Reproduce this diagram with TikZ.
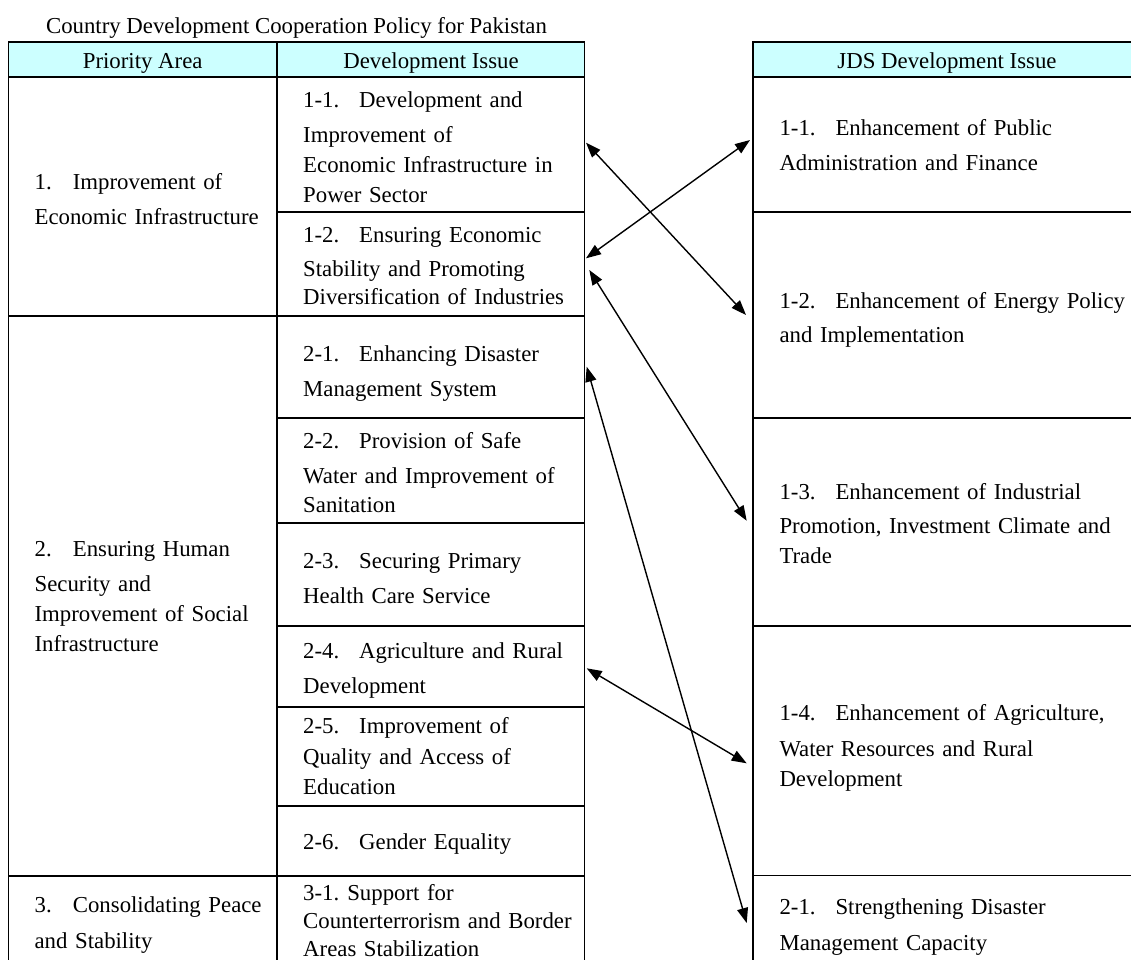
\documentclass[tikz,border=0pt]{standalone}
\usepackage{fontspec}
\setmainfont{Liberation Serif}
\usetikzlibrary{arrows.meta}
\definecolor{hdrcyan}{HTML}{CCFFFF}
\newcommand\prinum[1]{\makebox[38.3pt][l]{#1}}
\newcommand\devnum[1]{\makebox[56pt][l]{#1}}
\newcommand\jdsnum[1]{\makebox[56pt][l]{#1}}
\begin{document}
\begin{tikzpicture}[x=1pt,y=-1pt,
  cell/.style={draw=black, line width=1.9pt, rectangle, anchor=north west, inner sep=0pt, outer sep=0pt},
  hdr/.style={cell, fill=hdrcyan},
  txt/.style={anchor=base west, inner sep=0pt, align=left, text width=520pt, font=\fontsize{22.8}{30}\selectfont},
  htxt/.style={anchor=base, inner sep=0pt, font=\fontsize{22.8}{30}\selectfont},
  link/.style={line width=1.4pt, {Triangle[length=15pt,width=11pt]}-{Triangle[length=15pt,width=11pt]}}
]
\useasboundingbox (0,0) rectangle (1131,959);
\clip (0,0) rectangle (1131,959);
\fill[white] (0,0) rectangle (1131,959);

% title
\node[htxt] (title) at (296.5,33) {Country Development Cooperation Policy for Pakistan};

% headers
\node[hdr, minimum width=268.5pt, minimum height=35pt] (hP) at (8.5,41.7) {};
\node[hdr, minimum width=307.5pt, minimum height=35pt] (hD) at (277,41.7) {};
\node[hdr, minimum width=388.3pt, minimum height=35pt] (hJ) at (752.7,41.7) {};
\node[htxt] (hPt) at (142.7,68.3) {Priority Area};
\node[htxt] (hDt) at (431,68.3) {Development Issue};
\node[htxt] (hJt) at (947,68.3) {JDS Development Issue};

% priority area cells
\node[cell, minimum width=268.5pt, minimum height=239.3pt] (P1) at (8.5,76.7) {};
\node[cell, minimum width=268.5pt, minimum height=559.7pt] (P2) at (8.5,316) {};
\node[cell, minimum width=268.5pt, minimum height=100pt] (P3) at (8.5,875.7) {};

% development issue cells
\node[cell, minimum width=307.5pt, minimum height=135pt] (D11) at (277,76.7) {};
\node[cell, minimum width=307.5pt, minimum height=104.3pt] (D12) at (277,211.7) {};
\node[cell, minimum width=307.5pt, minimum height=102.3pt] (D21) at (277,316) {};
\node[cell, minimum width=307.5pt, minimum height=104.4pt] (D22) at (277,418.3) {};
\node[cell, minimum width=307.5pt, minimum height=103.3pt] (D23) at (277,522.7) {};
\node[cell, minimum width=307.5pt, minimum height=80.7pt] (D24) at (277,626) {};
\node[cell, minimum width=307.5pt, minimum height=99pt] (D25) at (277,706.7) {};
\node[cell, minimum width=307.5pt, minimum height=70pt] (D26) at (277,805.7) {};
\node[cell, minimum width=307.5pt, minimum height=100pt] (D31) at (277,875.7) {};

% JDS cells
\node[cell, minimum width=388.3pt, minimum height=135pt] (J11) at (752.7,76.7) {};
\node[cell, minimum width=388.3pt, minimum height=206.6pt] (J12) at (752.7,211.7) {};
\node[cell, minimum width=388.3pt, minimum height=207.7pt] (J13) at (752.7,418.3) {};
\node[cell, minimum width=388.3pt, minimum height=249.5pt] (J14) at (752.7,626) {};
\node[cell, minimum width=388.3pt, minimum height=100pt] (J21) at (752.7,875.5) {};

% texts: priority
\node[txt] (P1t) at (34.4,189.3) {\prinum{1.}Improvement of\\[5pt]Economic Infrastructure};
\node[txt] (P2t) at (34.4,556.7) {\prinum{2.}Ensuring Human\\[5pt]Security and\\Improvement of Social\\Infrastructure};
\node[txt] (P3t) at (34.4,912.7) {\prinum{3.}Consolidating Peace\\[5.3pt]and Stability};

% texts: development issues
\node[txt] (D11t) at (303,107.7) {\devnum{1-1.}Development and\\[5pt]Improvement of\\Economic Infrastructure in\\Power Sector};
\node[txt] (D12t) at (303,242.7) {\devnum{1-2.}Ensuring Economic\\[3.3pt]Stability and Promoting\\[-1.7pt]Diversification of Industries};
\node[txt] (D21t) at (303,361.7) {\devnum{2-1.}Enhancing Disaster\\[5pt]Management System};
\node[txt] (D22t) at (303,448.3) {\devnum{2-2.}Provision of Safe\\[5pt]Water and Improvement of\\[-1pt]Sanitation};
\node[txt] (D23t) at (303,568.3) {\devnum{2-3.}Securing Primary\\[5pt]Health Care Service};
\node[txt] (D24t) at (303,658.3) {\devnum{2-4.}Agriculture and Rural\\[5pt]Development};
\node[txt] (D25t) at (303,733.5) {\devnum{2-5.}Improvement of\\[0.5pt]Quality and Access of\\Education};
\node[txt] (D26t) at (303,849) {\devnum{2-6.}Gender Equality};
\node[txt] (D31t) at (303,900) {3-1.\hspace{8pt}Support for\\[-2pt]Counterterrorism and Border\\[-1.8pt]Areas Stabilization};

% texts: JDS
\node[txt] (J11t) at (779.3,135) {\jdsnum{1-1.}Enhancement of Public\\[5.6pt]Administration and Finance};
\node[txt] (J12t) at (779.3,308) {\jdsnum{1-2.}Enhancement of Energy Policy\\[4pt]and Implementation};
\node[txt] (J13t) at (779.3,499) {\jdsnum{1-3.}Enhancement of Industrial\\[4pt]Promotion, Investment Climate and\\Trade};
\node[txt] (J14t) at (779.3,720.5) {\jdsnum{1-4.}Enhancement of Agriculture,\\[6pt]Water Resources and Rural\\Development};
\node[txt] (J21t) at (779.3,914) {\jdsnum{2-1.}Strengthening Disaster\\[6pt]Management Capacity};

% connector end points
\coordinate (a1s) at (586,142.7);
\coordinate (a1e) at (746,315);
\coordinate (a2s) at (750,140);
\coordinate (a2e) at (586,258.3);
\coordinate (a3s) at (589.3,270);
\coordinate (a3e) at (746.7,520.7);
\coordinate (a4s) at (586.7,366.7);
\coordinate (a4e) at (746.7,923);
\coordinate (a5s) at (586.7,668.3);
\coordinate (a5e) at (746.7,763.3);

\draw[link] (a1s) -- (a1e);
\draw[link] (a2s) -- (a2e);
\draw[link] (a3s) -- (a3e);
\draw[link] (a4s) -- (a4e);
\draw[link] (a5s) -- (a5e);
\end{tikzpicture}
\end{document}
